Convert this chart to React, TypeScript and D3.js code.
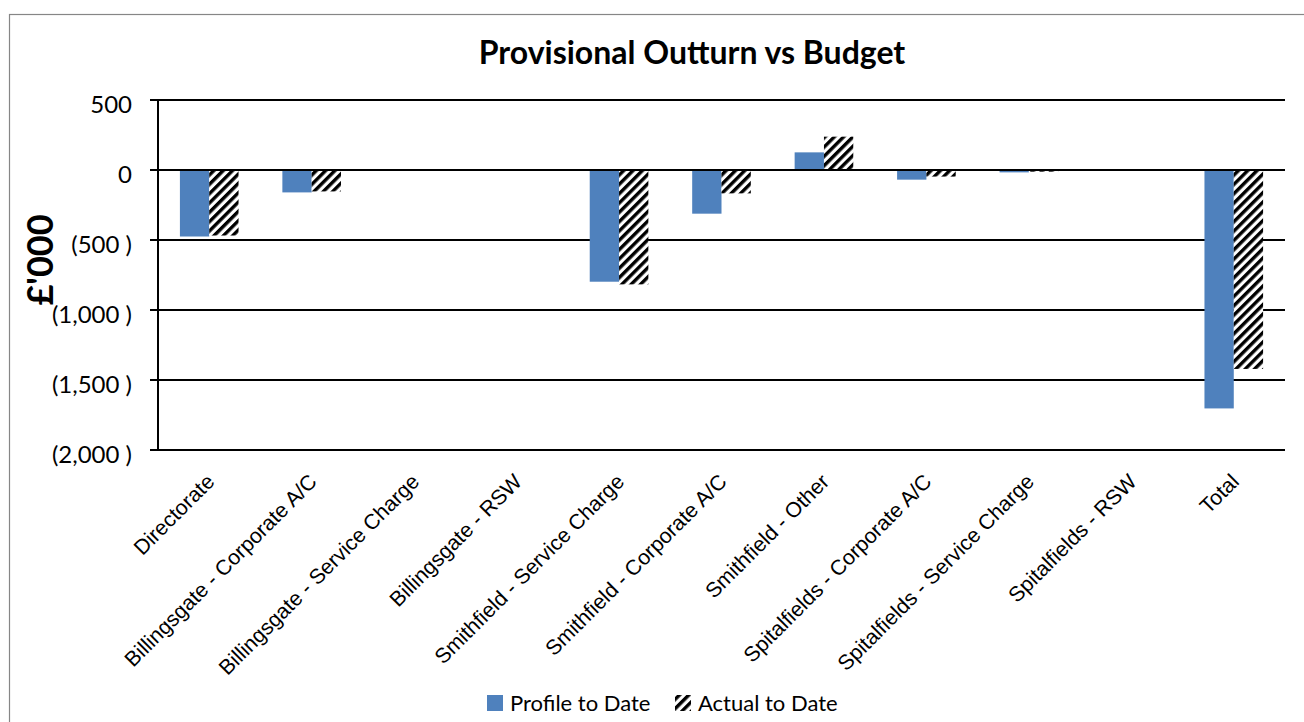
import React from 'react';
import * as d3 from 'd3';

const categories = [
  'Directorate',
  'Billingsgate - Corporate A/C',
  'Billingsgate - Service Charge',
  'Billingsgate - RSW',
  'Smithfield - Service Charge',
  'Smithfield - Corporate A/C',
  'Smithfield - Other',
  'Spitalfields - Corporate A/C',
  'Spitalfields - Service Charge',
  'Spitalfields - RSW',
  'Total',
];
const profileToDate = [-475, -160, 0, 0, -798, -312, 126, -69, -17, 0, -1703];
const actualToDate = [-468, -153, 0, 0, -817, -167, 238, -47, -12, 0, -1421];
const seriesNames = ['Profile to Date', 'Actual to Date'];
const yTicks = [500, 0, -500, -1000, -1500, -2000];

const W = 1304;
const H = 722;
const plot = { left: 158, right: 1285, top: 100, bottom: 450 };
const blue = '#4F81BD';
const calibriLike = 'Lato, "Open Sans", sans-serif';

const fmt = (v: number) => (v < 0 ? `(${d3.format(',')(-v)} )` : d3.format(',')(v));

export default function App() {
  const x = d3.scaleBand<string>().domain(categories).range([plot.left, plot.right]).padding(0);
  const step = x.step();
  const inner = d3
    .scaleBand<string>()
    .domain(seriesNames)
    .range([step * 0.2139, step * 0.7861])
    .padding(0);
  const y = d3.scaleLinear().domain([-2000, 500]).range([plot.bottom, plot.top]);

  const rows = categories.map((c, i) => ({ c, values: [profileToDate[i], actualToDate[i]] }));

  return (
    <div>
      <style>{`body{margin:0}`}</style>
      <svg width={W} height={H} style={{ display: 'block', background: '#fff' }}>
        <defs>
          <pattern id="hatch" patternUnits="userSpaceOnUse" width={6.6} height={6.6} patternTransform="rotate(45)">
            <rect width={6.6} height={6.6} fill="#fff" />
            <rect width={3.4} height={6.6} fill="#000" />
          </pattern>
        </defs>

        <rect x={9.5} y={14.5} width={1320} height={740} fill="none" stroke="#868686" strokeWidth={1.2} />

        <text x={692} y={64} textAnchor="middle" fontFamily={calibriLike} fontWeight="bold" fontSize={32} fill="#000">
          Provisional Outturn vs Budget
        </text>

        {/* gridlines + ticks */}
        {yTicks.map(t => (
          <g key={t}>
            <line x1={150} x2={plot.right} y1={y(t)} y2={y(t)} stroke="#000" strokeWidth={2} />
            <text
              x={132}
              y={y(t) + 13}
              textAnchor="end"
              fontFamily={calibriLike}
              fontSize={24}
              fill="#000"
            >
              {fmt(t)}
            </text>
          </g>
        ))}
        <line x1={plot.left} x2={plot.left} y1={plot.top} y2={plot.bottom} stroke="#000" strokeWidth={2} />

        <text
          transform={`translate(53,260) rotate(-90)`}
          textAnchor="middle"
          fontFamily={calibriLike}
          fontWeight="bold"
          fontSize={36}
          fill="#000"
        >
          £'000
        </text>

        {/* bars */}
        {rows.map(r => (
          <g key={r.c} transform={`translate(${x(r.c)},0)`}>
            {r.values.map((v, j) =>
              v === 0 ? null : (
                <rect
                  key={j}
                  x={inner(seriesNames[j])}
                  width={inner.bandwidth()}
                  y={y(Math.max(0, v))}
                  height={Math.abs(y(v) - y(0))}
                  fill={j === 0 ? blue : 'url(#hatch)'}
                />
              )
            )}
          </g>
        ))}
        <line x1={plot.left} x2={plot.right} y1={y(0)} y2={y(0)} stroke="#000" strokeWidth={2} />

        {/* category labels */}
        {categories.map(c => (
          <text
            key={c}
            transform={`translate(${(x(c) as number) + step / 2 + 6.5},${plot.bottom + 33}) rotate(-45)`}
            textAnchor="end"
            fontFamily='"Liberation Sans", Arial, sans-serif'
            fontSize={21.2}
            fill="#000"
          >
            {c}
          </text>
        ))}

        {/* legend */}
        <g>
          <rect x={487} y={695} width={16} height={16} fill={blue} />
          <text x={510} y={711} fontFamily={calibriLike} fontSize={22} fill="#000">
            {seriesNames[0]}
          </text>
          <rect x={675} y={695} width={16} height={16} fill="url(#hatch)" />
          <text x={698} y={711} fontFamily={calibriLike} fontSize={22} fill="#000">
            {seriesNames[1]}
          </text>
        </g>
      </svg>
    </div>
  );
}
